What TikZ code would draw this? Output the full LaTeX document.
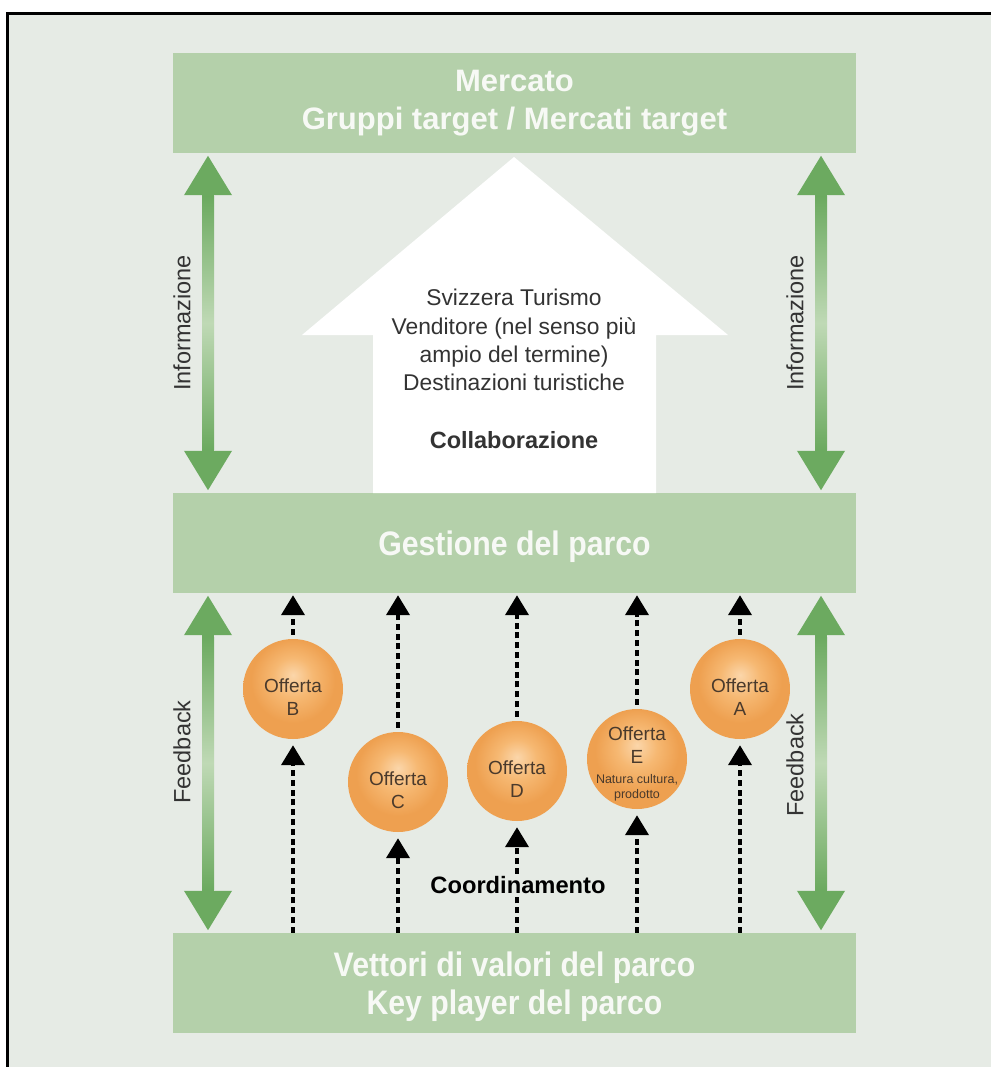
\documentclass[tikz,border=0pt]{standalone}
\usepackage{fontspec}
\setmainfont{Liberation Sans}
\newfontfamily\condbold[FakeStretch=0.89]{Liberation Sans Bold}
\usetikzlibrary{arrows.meta}
\definecolor{bg}{HTML}{E6EBE5}
\definecolor{boxgreen}{HTML}{B4D0AA}
\definecolor{arrowgreen}{HTML}{6CAA60}
\definecolor{lightgreen}{HTML}{BFD9B5}
\definecolor{txtwhite}{HTML}{F7F9F5}
\definecolor{darktxt}{HTML}{333333}
\definecolor{balltxt}{HTML}{4A3A2C}
\definecolor{orlight}{HTML}{FBD6AA}
\definecolor{ormid}{HTML}{F6B872}
\definecolor{oredge}{HTML}{EEA050}
\pgfdeclareradialshading{orangeball}{\pgfpoint{0bp}{7bp}}{color(0bp)=(orlight); color(10bp)=(ormid); color(21bp)=(oredge); color(25bp)=(oredge); color(50bp)=(oredge)}
\begin{document}
\begin{tikzpicture}[x=1pt,y=-1pt,
  greenbox/.style={fill=boxgreen, minimum width=683pt, minimum height=100pt, inner sep=0pt, text=txtwhite, align=center},
  ball/.style={circle, minimum size=100pt, inner sep=0pt, shading=orangeball},
  balltext/.style={align=center, text=balltxt, inner sep=0pt, font=\fontsize{19}{23.5}\selectfont},
  sidelabel/.style={rotate=90, text=darktxt, font=\fontsize{23.5}{28}\selectfont, inner sep=0pt},
  greenarrow/.style={line width=12pt, draw=arrowgreen, {Triangle[width=45pt,length=40pt]}-{Triangle[width=45pt,length=40pt]}, shorten <=2pt, shorten >=2pt},
  shaftshade/.style={top color=arrowgreen, bottom color=arrowgreen, middle color=lightgreen},
  dasharrow/.style={line width=4pt, draw=black, dash pattern=on 6pt off 3.8pt, -{Triangle[width=23pt,length=20pt]}},
  housetext/.style={text=darktxt, align=center, inner sep=0pt}
]
\useasboundingbox (0,0) rectangle (991,1067);
\fill[bg] (7,14) rectangle (991,1067);
\draw[line width=3pt] (7,1067) -- (7,14) -- (991,14);

% boxes
\node[greenbox, font=\bfseries\fontsize{31}{38}\selectfont] (market) at (514.5,103) {Mercato\\Gruppi target / Mercati target};
\node[greenbox, font=\condbold\fontsize{34}{38}\selectfont] (mgmt) at (514.5,543) {};
\node[text=txtwhite, inner sep=0pt, font=\condbold\fontsize{34}{38}\selectfont] (mgmttext) at (514.5,547) {Gestione del parco};
\node[greenbox, font=\condbold\fontsize{34}{38}\selectfont] (players) at (514.5,983) {};
\node[text=txtwhite, align=center, inner sep=0pt, font=\condbold\fontsize{34}{38}\selectfont] (playerstext) at (514.5,987) {Vettori di valori del parco\\Key player del parco};

% house arrow
\fill[white] (514,157) -- (728,335) -- (656,335) -- (656,493) -- (373,493) -- (373,335) -- (302,335) -- cycle;
\node[housetext, font=\fontsize{22.8}{28.3}\selectfont] (house) at (514,340) {Svizzera Turismo\\Venditore (nel senso più\\ampio del termine)\\Destinazioni turistiche};
\node[housetext, font=\bfseries\fontsize{23.5}{28}\selectfont] (collab) at (514,440) {Collaborazione};

% green double arrows
\coordinate (lx) at (208,0);
\coordinate (rx) at (821,0);
\draw[greenarrow] (market.south -| lx) -- (mgmt.north -| lx);
\draw[greenarrow] (market.south -| rx) -- (mgmt.north -| rx);
\draw[greenarrow] (mgmt.south -| lx) -- (players.north -| lx);
\draw[greenarrow] (mgmt.south -| rx) -- (players.north -| rx);
\shade[shaftshade] (202,197) rectangle (214,449);
\shade[shaftshade] (815,197) rectangle (827,449);
\shade[shaftshade] (202,637) rectangle (214,889);
\shade[shaftshade] (815,637) rectangle (827,889);

\node[sidelabel] (infoL) at (182,323) {Informazione};
\node[sidelabel] (infoR) at (795,323) {Informazione};
\node[sidelabel] (feedL) at (182,752) {Feedback};
\node[sidelabel] (feedR) at (795,765) {Feedback};

% offers
\node[ball] (B) at (293,689) {};
\node[ball] (C) at (398,782) {};
\node[ball] (D) at (517,771) {};
\node[ball] (E) at (637,759) {};
\node[ball] (A) at (740,689) {};
\node[balltext] (Bt) at ([yshift=-8pt]B.center) {Offerta\\B};
\node[balltext] (Ct) at ([yshift=-8pt]C.center) {Offerta\\C};
\node[balltext] (Dt) at ([yshift=-8pt]D.center) {Offerta\\D};
\node[balltext] (At) at ([yshift=-8pt]A.center) {Offerta\\A};
\node[balltext] (Et) at ([yshift=-5pt]E.center) {Offerta\\E\\[-4pt]{\fontsize{12.5}{14}\selectfont Natura cultura,}\\[-8pt]{\fontsize{12.5}{14}\selectfont prodotto}};

\foreach \n in {B,C,D,E,A}{
  \draw[dasharrow, shorten <=4pt, shorten >=2pt] (\n.north) -- (mgmt.south -| \n);
  \draw[dasharrow, shorten >=6pt] (players.north -| \n) -- (\n.south);
}

\node[fill=bg, inner sep=2pt, text=black, font=\bfseries\fontsize{23.7}{28}\selectfont] (coord) at (518,885) {Coordinamento};
\end{tikzpicture}
\end{document}
